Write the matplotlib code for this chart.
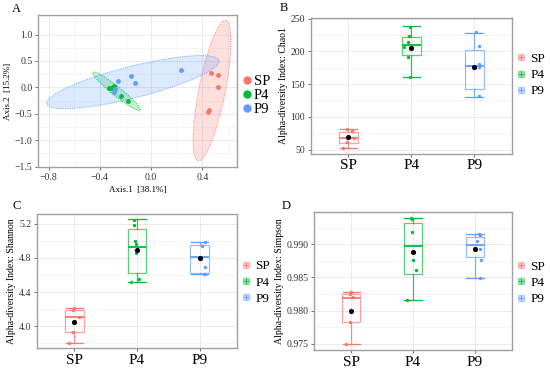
import matplotlib
matplotlib.use('Agg')
import matplotlib.pyplot as plt
from matplotlib.patches import Ellipse
from matplotlib.lines import Line2D
from matplotlib.ticker import AutoMinorLocator

plt.rcParams['font.family'] = ['Liberation Serif', 'DejaVu Serif']

groups = ['SP', 'P4', 'P9']
colors = ['#F8766D', '#00BA38', '#619CFF']

# --- PCoA (panel A) ---
pcoa_x = {
    'SP': [0.465, 0.52, 0.525, 0.45, 0.44],
    'P4': [-0.33, -0.317, -0.30, -0.29, -0.234, -0.18],
    'P9': [-0.257, -0.158, -0.125, 0.236, -0.283, -0.29],
}
pcoa_y = {
    'SP': [0.28, 0.24, 0.0, -0.42, -0.46],
    'P4': [-0.005, -0.01, 0.01, 0.025, -0.17, -0.25],
    'P9': [0.13, 0.22, 0.09, 0.32, -0.025, -0.09],
}
# confidence ellipses: centre x, centre y, width, height, angle
ell_cx = [0.475, -0.27, -0.143]
ell_cy = [-0.06, -0.073, 0.10]
ell_w = [2.67, 0.81, 1.60]
ell_h = [0.21, 0.10, 0.52]
ell_ang = [85.5, -63.7, 34.8]

# --- alpha diversity (panels B, C, D): box stats per group ---
chao1_q = {
    'whishi': [81.5, 238.3, 228.7],
    'q3': [77.4, 221.5, 201.8],
    'med': [68.3, 210.4, 178.0],
    'q1': [59.6, 195.2, 142.4],
    'whislo': [53.0, 161.2, 130.7],
    'mean': [68.5, 205.8, 175.9],
}
chao1_pts = {
    'SP': [81, 79, 68, 61, 53],
    'P4': [238, 224, 215, 206, 192, 161],
    'P9': [229, 209, 181, 176, 132],
}
chao1_jit = {
    'SP': [-0.02, 0.05, 0.08, -0.03, -0.08],
    'P4': [-0.03, -0.04, -0.05, -0.11, -0.05, -0.02],
    'P9': [0.03, 0.07, 0.07, 0.08, 0.08],
}

shannon_q = {
    'whishi': [4.211, 5.251, 4.985],
    'q3': [4.188, 5.138, 4.954],
    'med': [4.106, 4.926, 4.813],
    'q1': [3.926, 4.625, 4.625],
    'whislo': [3.80, 4.512, 4.61],
    'mean': [4.05, 4.887, 4.797],
}
shannon_pts = {
    'SP': [4.21, 4.19, 4.106, 3.926, 3.80],
    'P4': [5.25, 5.185, 5.0, 4.958, 4.852, 4.551, 4.512],
    'P9': [4.985, 4.94, 4.69, 4.617, 4.61],
}
shannon_jit = {
    'SP': [0.0, -0.03, 0.07, -0.03, -0.08],
    'P4': [-0.05, -0.04, -0.03, -0.02, -0.01, 0.04, -0.09],
    'P9': [0.09, 0.04, 0.09, 0.09, 0.07],
}

simpson_q = {
    'whishi': [0.98286, 0.99398, 0.99162],
    'q3': [0.98245, 0.99323, 0.99111],
    'med': [0.9819, 0.9898, 0.98996],
    'q1': [0.97822, 0.98547, 0.98804],
    'whislo': [0.97495, 0.98165, 0.98497],
    'mean': [0.9800, 0.9889, 0.9893],
}
simpson_pts = {
    'SP': [0.98286, 0.9825, 0.9820, 0.97822, 0.97495],
    'P4': [0.99398, 0.99380, 0.99187, 0.98769, 0.98608, 0.98165],
    'P9': [0.99162, 0.9914, 0.99051, 0.98935, 0.98759, 0.98497],
}
simpson_jit = {
    'SP': [-0.01, -0.02, 0.03, -0.02, -0.09],
    'P4': [-0.04, -0.02, -0.01, 0.0, 0.04, -0.09],
    'P9': [0.07, 0.08, 0.04, 0.08, 0.1, 0.08],
}

GRID = '#E6E6E6'
GRID_MINOR = '#F3F3F3'


def style_axes(ax):
    ax.set_facecolor('white')
    for s in ax.spines.values():
        s.set_color('#A0A0A0')
        s.set_linewidth(1.0)
    ax.tick_params(axis='both', colors='#555555', length=2.5, width=0.6,
                   labelsize=7, labelcolor='#333333', pad=1.5)
    ax.grid(True, which='major', color=GRID, linewidth=0.6)
    ax.set_axisbelow(True)


def draw_boxes(ax, q, pts, jit, ylabel, ylim, yticks, ytlabels):
    style_axes(ax)
    ax.yaxis.set_minor_locator(AutoMinorLocator(2))
    ax.grid(True, which='minor', axis='y', color=GRID_MINOR, linewidth=0.5)
    ax.tick_params(which='minor', length=0)
    for i, (g, c) in enumerate(zip(groups, colors)):
        pos = i + 1
        st = [{'med': q['med'][i], 'q1': q['q1'][i], 'q3': q['q3'][i],
               'whislo': q['whislo'][i], 'whishi': q['whishi'][i], 'fliers': []}]
        ax.bxp(st, positions=[pos], widths=0.3, capwidths=0.28,
               boxprops=dict(color=c, linewidth=0.9, alpha=0.65),
               whiskerprops=dict(color=c, linewidth=0.9, alpha=0.8),
               capprops=dict(color=c, linewidth=0.9),
               medianprops=dict(color=c, linewidth=1.3),
               showfliers=False, manage_ticks=False)
        xs = [pos + j for j in jit[g]]
        ax.scatter(xs, pts[g], s=6, color=c, zorder=3, linewidths=0)
        ax.scatter([pos], [q['mean'][i]], s=14, color='black', zorder=4,
                   linewidths=0)
    ax.set_xlim(0.4, 3.6)
    ax.set_ylim(*ylim)
    ax.set_xticks([1, 2, 3])
    ax.set_xticklabels(groups, fontsize=11, color='black')
    ax.set_yticks(yticks)
    ax.set_yticklabels(ytlabels)
    ax.set_ylabel(ylabel, fontsize=7, labelpad=2)
    handles = []
    for c in colors:
        sq = Line2D([], [], marker='s', linestyle='none', markersize=5,
                    markerfacecolor=c, markeredgecolor=c, alpha=0.35)
        cr = Line2D([], [], marker='+', linestyle='none', markersize=5,
                    color=c, markeredgewidth=0.8, alpha=0.8)
        handles.append((sq, cr))
    return handles


def add_legend(ax, handles, ypos, fs, sep, tpad):
    ax.legend(handles, groups, loc='center left', bbox_to_anchor=(1.0, ypos),
              frameon=False, fontsize=fs, handletextpad=tpad, labelspacing=sep,
              handlelength=0.8, borderaxespad=0.1, borderpad=0.2)


fig = plt.figure(figsize=(5.5, 3.68), dpi=100)

# Panel A
axA = fig.add_axes([0.069, 0.546, 0.362, 0.413])
style_axes(axA)
axA.xaxis.set_minor_locator(AutoMinorLocator(2))
axA.yaxis.set_minor_locator(AutoMinorLocator(2))
axA.grid(True, which='minor', color=GRID_MINOR, linewidth=0.5)
axA.tick_params(which='minor', length=0)
for i, (g, c) in enumerate(zip(groups, colors)):
    e = Ellipse((ell_cx[i], ell_cy[i]), ell_w[i], ell_h[i], angle=ell_ang[i],
                facecolor=c, alpha=0.22, edgecolor='none', zorder=1)
    axA.add_patch(e)
    e2 = Ellipse((ell_cx[i], ell_cy[i]), ell_w[i], ell_h[i], angle=ell_ang[i],
                 facecolor='none', edgecolor=c, alpha=0.8, linestyle=(0, (1.2, 1.2)),
                 linewidth=0.7, zorder=2)
    axA.add_patch(e2)
for g, c in zip(groups, colors):
    axA.scatter(pcoa_x[g], pcoa_y[g], s=12, color=c, zorder=3, linewidths=0)
axA.set_xlim(-0.883, 0.67)
axA.set_ylim(-1.51, 1.37)
axA.set_xticks([-0.8, -0.4, 0.0, 0.4])
axA.set_yticks([-1.5, -1.0, -0.5, 0.0, 0.5, 1.0])
axA.set_xticklabels(['\u22120.8', '\u22120.4', '0.0', '0.4'])
axA.set_yticklabels(['\u22121.5', '\u22121.0', '\u22120.5', '0.0', '0.5', '1.0'])
axA.set_xlabel('Axis.1  [38.1%]', fontsize=6.5, labelpad=3)
axA.set_ylabel('Axis.2  [15.2%]', fontsize=6.5, labelpad=2)
hA = [Line2D([], [], marker='o', linestyle='none', markersize=5, color=c)
      for c in colors]
add_legend(axA, hA, 0.47, 10.5, 0.05, 0.05)

# Panel B
axB = fig.add_axes([0.565, 0.582, 0.366, 0.369])
hB = draw_boxes(axB, chao1_q, chao1_pts, chao1_jit,
                'Alpha-diversity Index: Chao1', (43.4, 251),
                [50, 100, 150, 200, 250], ['50', '100', '150', '200', '250'])
add_legend(axB, hB, 0.58, 9.5, 0.3, 0.3)

# Panel C
axC = fig.add_axes([0.067, 0.054, 0.364, 0.364])
hC = draw_boxes(axC, shannon_q, shannon_pts, shannon_jit,
                'Alpha-diversity Index: Shannon', (3.742, 5.313),
                [4.0, 4.4, 4.8, 5.2], ['4.0', '4.4', '4.8', '5.2'])
add_legend(axC, hC, 0.49, 9.5, 0.3, 0.3)

# Panel D
axD = fig.add_axes([0.571, 0.049, 0.36, 0.375])
hD = draw_boxes(axD, simpson_q, simpson_pts, simpson_jit,
                'Alpha-diversity Index: Simpson', (0.97404, 0.99489),
                [0.975, 0.980, 0.985, 0.990], ['0.975', '0.980', '0.985', '0.990'])
add_legend(axD, hD, 0.486, 9.5, 0.3, 0.3)

# panel letters
for lbl, x, y in [('A', 0.022, 0.975), ('B', 0.509, 0.978),
                  ('C', 0.022, 0.44), ('D', 0.513, 0.44)]:
    fig.text(x, y, lbl, fontsize=9, ha='left', va='center')

fig.savefig('out.png', dpi=100, facecolor='white')
